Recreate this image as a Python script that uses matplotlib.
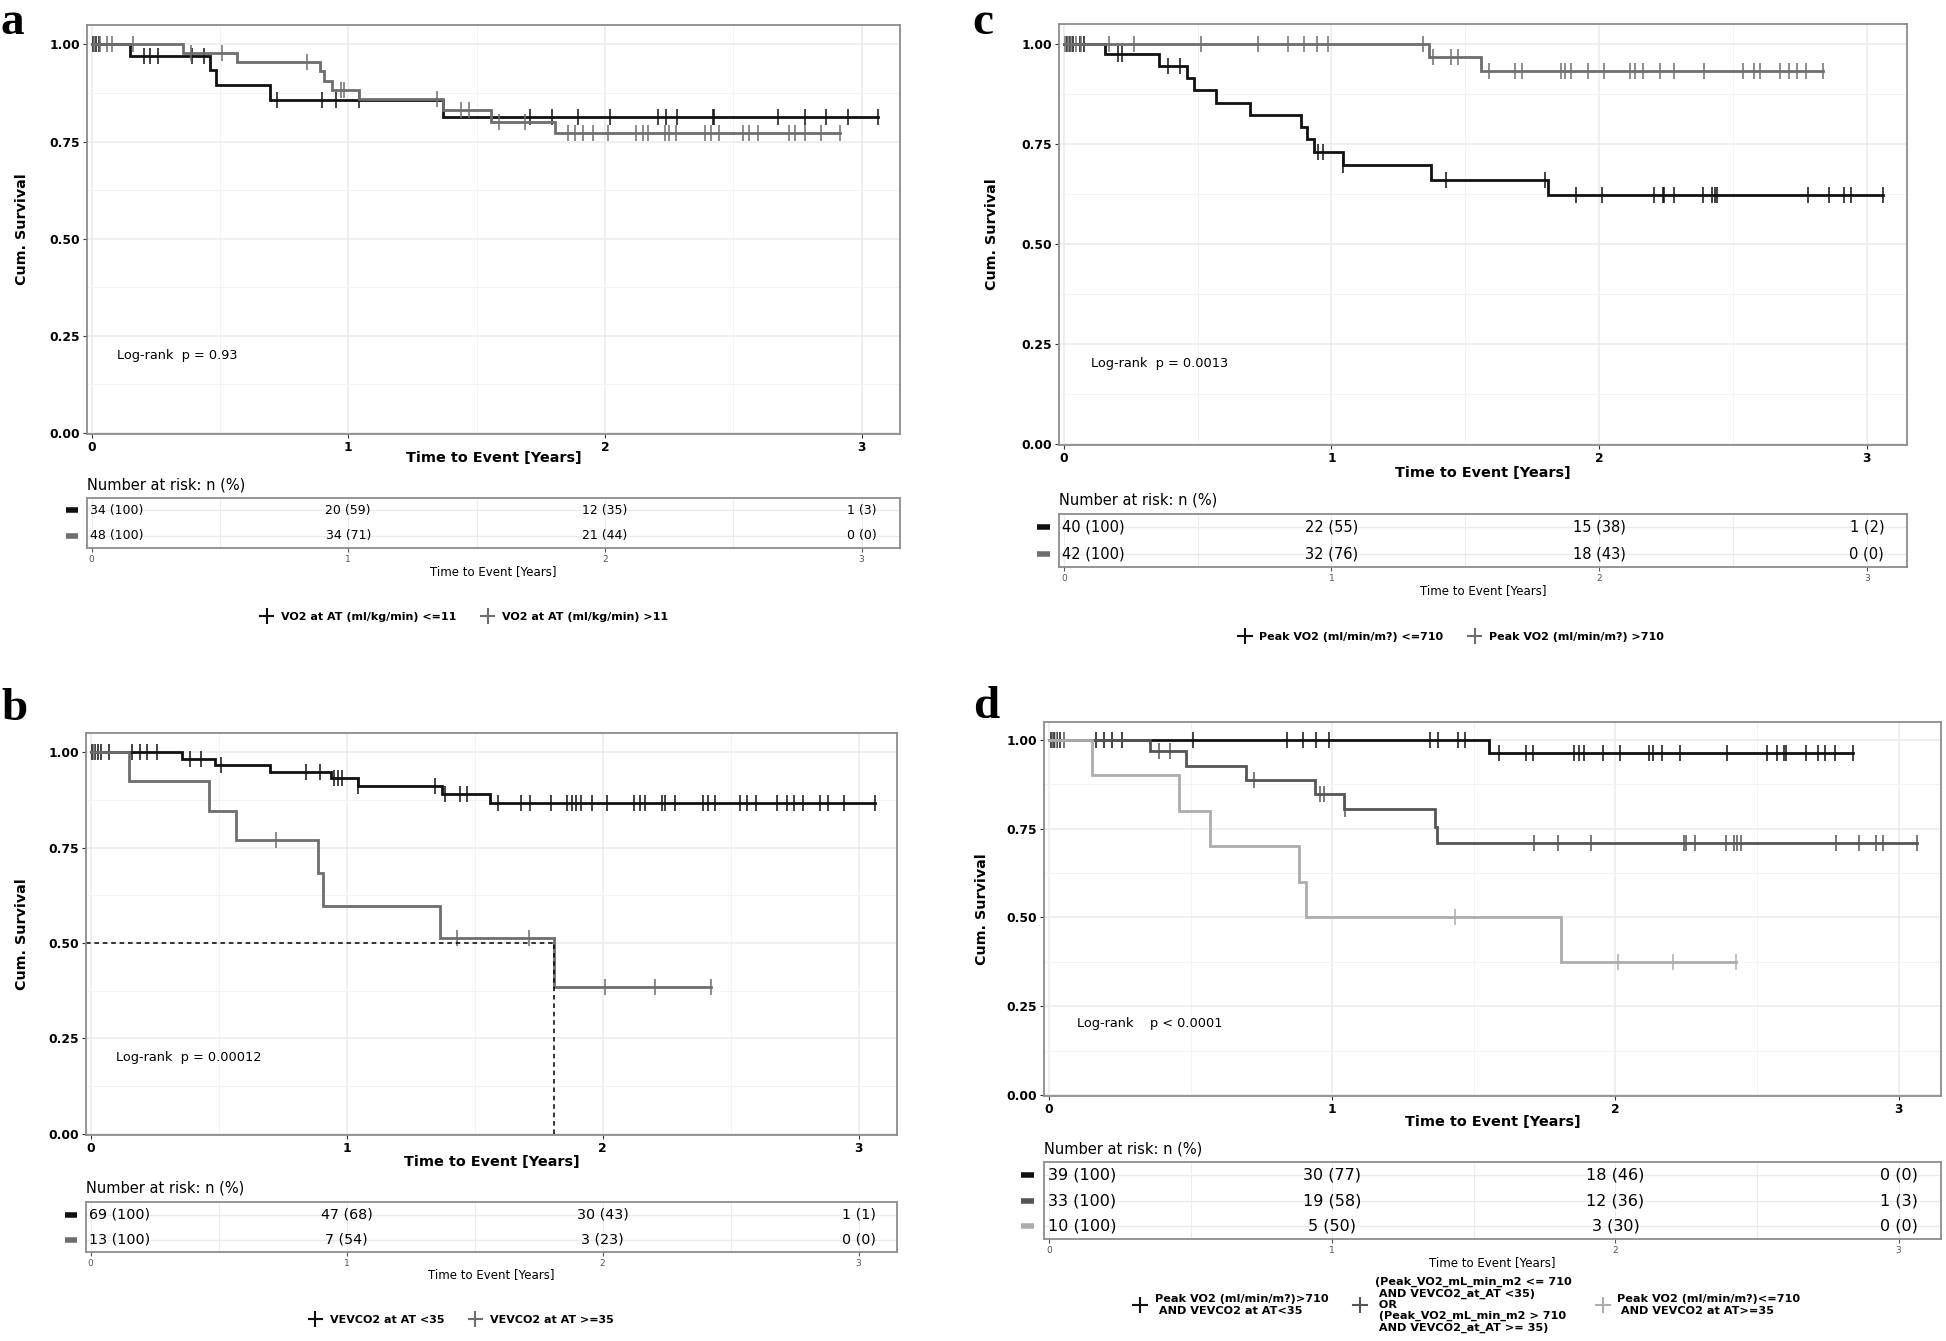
import numpy as np
import matplotlib.pyplot as plt
import matplotlib.transforms as mtransforms
from matplotlib.lines import Line2D

plt.rcParams['font.family'] = ['DejaVu Sans']

W, H = 1946, 1341
BLACK, GREY, DARK, LIGHT = '#111111', '#6e6e6e', '#555555', '#adadad'

# %% data (years, survival)
# panel a
a_times = [[0, 0.151, 0.46, 0.485, 0.696, 1.368],
           [0, 0.356, 0.565, 0.889, 0.906, 0.935, 1.04, 1.368, 1.556, 1.804]]
a_surv = [[1, 0.971, 0.933, 0.895, 0.857, 0.814],
          [1, 0.979, 0.954, 0.931, 0.907, 0.883, 0.859, 0.831, 0.801, 0.772]]
a_cens = [[0.005, 0.017, 0.029, 0.205, 0.229, 0.258, 0.39, 0.436, 0.723, 0.898, 0.952, 1.04,
           1.709, 1.795, 1.897, 2.019, 2.206, 2.238, 2.281, 2.42, 2.425, 2.676, 2.778, 2.863,
           2.946, 3.065],
          [0.01, 0.034, 0.058, 0.078, 0.161, 0.387, 0.509, 0.838, 0.972, 0.984, 1.344, 1.441,
           1.471, 1.588, 1.69, 1.855, 1.885, 1.916, 1.953, 2.011, 2.123, 2.148, 2.167, 2.233,
           2.25, 2.279, 2.389, 2.415, 2.445, 2.537, 2.561, 2.598, 2.717, 2.742, 2.778, 2.842,
           2.915]]
a_risk = [["34 (100)", "20 (59)", "12 (35)", "1 (3)"],
          ["48 (100)", "34 (71)", "21 (44)", "0 (0)"]]
a_labels = ["VO2 at AT (ml/kg/min) <=11", "VO2 at AT (ml/kg/min) >11"]
a_p = "Log-rank  p = 0.93"

# panel b
b_times = [[0, 0.357, 0.486, 0.699, 0.938, 1.043, 1.373, 1.561],
           [0, 0.151, 0.462, 0.567, 0.889, 0.906, 1.366, 1.81]]
b_surv = [[1, 0.983, 0.966, 0.949, 0.931, 0.910, 0.889, 0.867],
          [1, 0.923, 0.846, 0.769, 0.684, 0.598, 0.513, 0.385]]
b_cens = [[0.005, 0.017, 0.029, 0.042, 0.071, 0.161, 0.193, 0.222, 0.259, 0.388, 0.432, 0.511,
           0.84, 0.897, 0.95, 0.965, 0.982, 1.043, 1.346, 1.383, 1.444, 1.471, 1.591, 1.683,
           1.715, 1.798, 1.862, 1.879, 1.896, 1.915, 1.959, 2.018, 2.123, 2.148, 2.167, 2.233,
           2.245, 2.282, 2.392, 2.411, 2.441, 2.538, 2.563, 2.6, 2.68, 2.722, 2.746, 2.783,
           2.849, 2.881, 2.942, 3.064],
          [0.012, 0.726, 1.432, 1.713, 2.008, 2.204, 2.424]]
b_risk = [["69 (100)", "47 (68)", "30 (43)", "1 (1)"],
          ["13 (100)", "7 (54)", "3 (23)", "0 (0)"]]
b_labels = ["VEVCO2 at AT <35", "VEVCO2 at AT >=35"]
b_p = "Log-rank  p = 0.00012"

# panel c
c_times = [[0, 0.154, 0.354, 0.459, 0.485, 0.569, 0.697, 0.886, 0.907, 0.935, 1.042, 1.371, 1.807],
           [0, 1.364, 1.557]]
c_surv = [[1, 0.975, 0.944, 0.914, 0.884, 0.852, 0.822, 0.793, 0.762, 0.731, 0.698, 0.661, 0.623],
          [1, 0.968, 0.932]]
c_cens = [[0.012, 0.023, 0.035, 0.061, 0.077, 0.203, 0.217, 0.389, 0.434, 0.951, 0.97, 1.044,
           1.429, 1.797, 1.914, 2.009, 2.203, 2.238, 2.242, 2.28, 2.389, 2.42, 2.431, 2.441,
           2.779, 2.858, 2.914, 2.942, 3.061],
          [0.005, 0.016, 0.028, 0.047, 0.065, 0.168, 0.261, 0.513, 0.725, 0.839, 0.897, 0.944,
           0.986, 1.343, 1.38, 1.445, 1.471, 1.59, 1.685, 1.711, 1.858, 1.872, 1.893, 1.958,
           2.019, 2.114, 2.135, 2.163, 2.228, 2.28, 2.392, 2.536, 2.578, 2.599, 2.676, 2.711,
           2.739, 2.774, 2.837]]
c_risk = [["40 (100)", "22 (55)", "15 (38)", "1 (2)"],
          ["42 (100)", "32 (76)", "18 (43)", "0 (0)"]]
c_labels = ["Peak VO2 (ml/min/m?) <=710", "Peak VO2 (ml/min/m?) >710"]
c_p = "Log-rank  p = 0.0013"

# panel d
d_times = [[0, 1.555],
           [0, 0.355, 0.485, 0.695, 0.939, 1.042, 1.362, 1.371],
           [0, 0.151, 0.458, 0.568, 0.884, 0.908, 1.807]]
d_surv = [[1, 0.963],
          [1, 0.967, 0.926, 0.888, 0.848, 0.804, 0.754, 0.708],
          [1, 0.9, 0.8, 0.7, 0.6, 0.5, 0.375]]
d_cens = [[0.007, 0.018, 0.029, 0.04, 0.164, 0.193, 0.221, 0.257, 0.509, 0.84, 0.897, 0.943,
           0.987, 1.344, 1.373, 1.445, 1.469, 1.588, 1.686, 1.708, 1.855, 1.873, 1.89, 1.958,
           2.018, 2.118, 2.134, 2.164, 2.228, 2.393, 2.537, 2.572, 2.594, 2.601, 2.673, 2.715,
           2.741, 2.774, 2.84],
          [0.012, 0.051, 0.388, 0.428, 0.724, 0.956, 0.971, 1.044, 1.711, 1.796, 1.914, 2.241,
           2.248, 2.281, 2.39, 2.419, 2.43, 2.445, 2.778, 2.862, 2.919, 2.945, 3.064],
          [0.023, 1.432, 2.011, 2.204, 2.425]]
d_risk = [["39 (100)", "30 (77)", "18 (46)", "0 (0)"],
          ["33 (100)", "19 (58)", "12 (36)", "1 (3)"],
          ["10 (100)", "5 (50)", "3 (30)", "0 (0)"]]
d_labels = ["Peak VO2 (ml/min/m?)>710\n AND VEVCO2 at AT<35",
            "(Peak_VO2_mL_min_m2 <= 710\n AND VEVCO2_at_AT <35)\n OR\n (Peak_VO2_mL_min_m2 > 710\n AND VEVCO2_at_AT >= 35)",
            "Peak VO2 (ml/min/m?)<=710\n AND VEVCO2 at AT>=35"]
d_p = "Log-rank    p < 0.0001"

risk_ticks = [0, 1, 2, 3]

# %% helpers
fig = plt.figure(figsize=(W / 100, H / 100), dpi=100)


def fx(x):
    return x / W


def fy(y):
    return 1 - y / H


def add_ax(l, t, r, b):
    return fig.add_axes([l / W, 1 - b / H, (r - l) / W, (b - t) / H])


def surv_at(times, surv, t):
    i = np.searchsorted(times, t, side='right') - 1
    return np.asarray(surv)[i]


def style_main(ax):
    ax.set_xlim(-0.018, 3.15)
    ax.set_ylim(-0.003, 1.05)
    ax.set_xticks([0, 1, 2, 3])
    ax.set_xticks([0.5, 1.5, 2.5], minor=True)
    ax.set_yticks([0, 0.25, 0.5, 0.75, 1.0])
    ax.set_yticklabels(['0.00', '0.25', '0.50', '0.75', '1.00'])
    ax.set_yticks([0.125, 0.375, 0.625, 0.875], minor=True)
    ax.grid(which='major', color='#ebebeb', lw=1.1)
    ax.grid(which='minor', color='#f3f3f3', lw=0.7)
    ax.set_axisbelow(True)
    ax.tick_params(which='minor', length=0)
    ax.tick_params(which='major', length=3, color='#333333', labelsize=8.8, pad=2)
    for lab in ax.get_xticklabels() + ax.get_yticklabels():
        lab.set_fontweight('bold')
    for sp in ax.spines.values():
        sp.set_color('#8c8c8c')
        sp.set_linewidth(1.3)


def style_table(ax, colors):
    n = len(colors)
    ax.set_xlim(-0.018, 3.15)
    ax.set_ylim(0.5, n + 0.5)
    ax.set_xticks(risk_ticks)
    ax.set_xticklabels([str(t) for t in risk_ticks])
    ax.set_xticks([0.5, 1.5, 2.5], minor=True)
    ax.set_yticks(list(range(n, 0, -1)))
    ax.set_yticklabels([])
    ax.grid(which='both', axis='x', color='#ededed', lw=0.8)
    ax.grid(which='major', axis='y', color='#ebebeb', lw=1.0)
    ax.set_axisbelow(True)
    ax.tick_params(which='minor', length=0)
    ax.tick_params(axis='x', which='major', length=3, labelsize=6.5,
                   labelcolor='#555555', color='#555555', pad=2)
    ax.tick_params(axis='y', length=0)
    for sp in ax.spines.values():
        sp.set_color('#8c8c8c')
        sp.set_linewidth(1.3)
    # group keys left of the table
    trans = mtransforms.blended_transform_factory(ax.transAxes, ax.transData)
    for i, c in enumerate(colors):
        ax.plot([-0.026, -0.011], [n - i, n - i], transform=trans, color=c, lw=4,
                solid_capstyle='butt', clip_on=False)


def draw_panel(times, surv, cens, risk, labels, ptext, colors, box, tbox, lay):
    ax = add_ax(*box)
    style_main(ax)
    for tt, ss, cc, col in zip(times, surv, cens, colors):
        end = max(cc)
        ax.step(list(tt) + [end], list(ss) + [ss[-1]], where='post', color=col, lw=2,
                solid_joinstyle='miter')
        ax.plot(cc, surv_at(tt, ss, cc), ls='none', marker='|', ms=11, mew=1.1, color=col)
    ax.text(0.1, 0.2, ptext, fontsize=9.3, va='center', ha='left')

    # axis titles
    fig.text(fx((box[0] + box[2]) / 2), fy(lay['xlab']), 'Time to Event [Years]',
             ha='center', va='center', fontsize=10.4, fontweight='bold')
    fig.text(fx(lay['ylab']), fy((box[1] + box[3]) / 2), 'Cum. Survival', rotation=90,
             ha='center', va='center', fontsize=10.3, fontweight='bold')

    # risk table
    tax = add_ax(*tbox)
    style_table(tax, colors)
    n = len(risk)
    for i, row in enumerate(risk):
        for t, s in zip(risk_ticks, row):
            tax.text(t - 0.005 if t == 0 else t, n - i, s, ha='left' if t == 0 else 'center',
                     va='center', fontsize=lay['rfs'])
    fig.text(fx(tbox[0]), fy(lay['nar']), 'Number at risk: n (%)', ha='left', va='center',
             fontsize=10.5)
    fig.text(fx((tbox[0] + tbox[2]) / 2), fy(lay['txlab']), 'Time to Event [Years]',
             ha='center', va='center', fontsize=8.5)

    # legend
    handles = [Line2D([0], [0], color=c, lw=1.5, marker='|', ms=12, mew=1.5) for c in colors]
    leg = fig.legend(handles, labels, loc='center',
                     bbox_to_anchor=(fx(lay['leg'][0]), fy(lay['leg'][1])),
                     ncol=len(labels), frameon=False, prop=dict(weight='bold', size=lay.get('lfs', 8)),
                     handlelength=1.2, handletextpad=0.7, columnspacing=2.2, borderpad=0)
    for txt in leg.get_texts():
        txt.set_linespacing(1.15)

    # panel letter
    fig.text(fx(lay['letter'][0]), fy(lay['letter'][1]), lay['letter'][2], ha='left',
             va='baseline', fontsize=34, fontweight='bold', family=['Liberation Serif', 'DejaVu Serif'])
    return ax


draw_panel(a_times, a_surv, a_cens, a_risk, a_labels, a_p, [BLACK, GREY],
           (87, 25, 900, 434), (87, 498, 900, 548),
           dict(xlab=458, ylab=22, rfs=9, nar=485, txlab=572, leg=(464, 617), letter=(1, 34, 'a')))

axb = draw_panel(b_times, b_surv, b_cens, b_risk, b_labels, b_p, [BLACK, GREY],
                 (86, 733, 897, 1135), (86, 1202, 897, 1252),
                 dict(xlab=1162, ylab=22, rfs=10.3, nar=1188, txlab=1275, leg=(461, 1320),
                      letter=(1, 720, 'b')))
# median survival line for the VEVCO2 >= 35 group
b_med = b_times[1][int(np.argmax(np.asarray(b_surv[1]) <= 0.5))]
axb.plot([axb.get_xlim()[0], b_med], [0.5, 0.5], color='black', lw=1.1, ls=(0, (3, 2.5)))
axb.plot([b_med, b_med], [0, 0.5], color='black', lw=1.1, ls=(0, (3, 2.5)))

draw_panel(c_times, c_surv, c_cens, c_risk, c_labels, c_p, [BLACK, GREY],
           (1059, 24, 1907, 445), (1059, 514, 1907, 567),
           dict(xlab=473, ylab=992, rfs=10.5, nar=500, txlab=591, leg=(1451, 637),
                letter=(972, 34, 'c')))

draw_panel(d_times, d_surv, d_cens, d_risk, d_labels, d_p, [BLACK, DARK, LIGHT],
           (1044, 722, 1941, 1096), (1044, 1162, 1941, 1239),
           dict(xlab=1122, ylab=982, rfs=11.5, nar=1149, txlab=1263, leg=(1467, 1305),
                lfs=8.1, letter=(973, 718, 'd')))

fig.savefig('out.png', dpi=100)
